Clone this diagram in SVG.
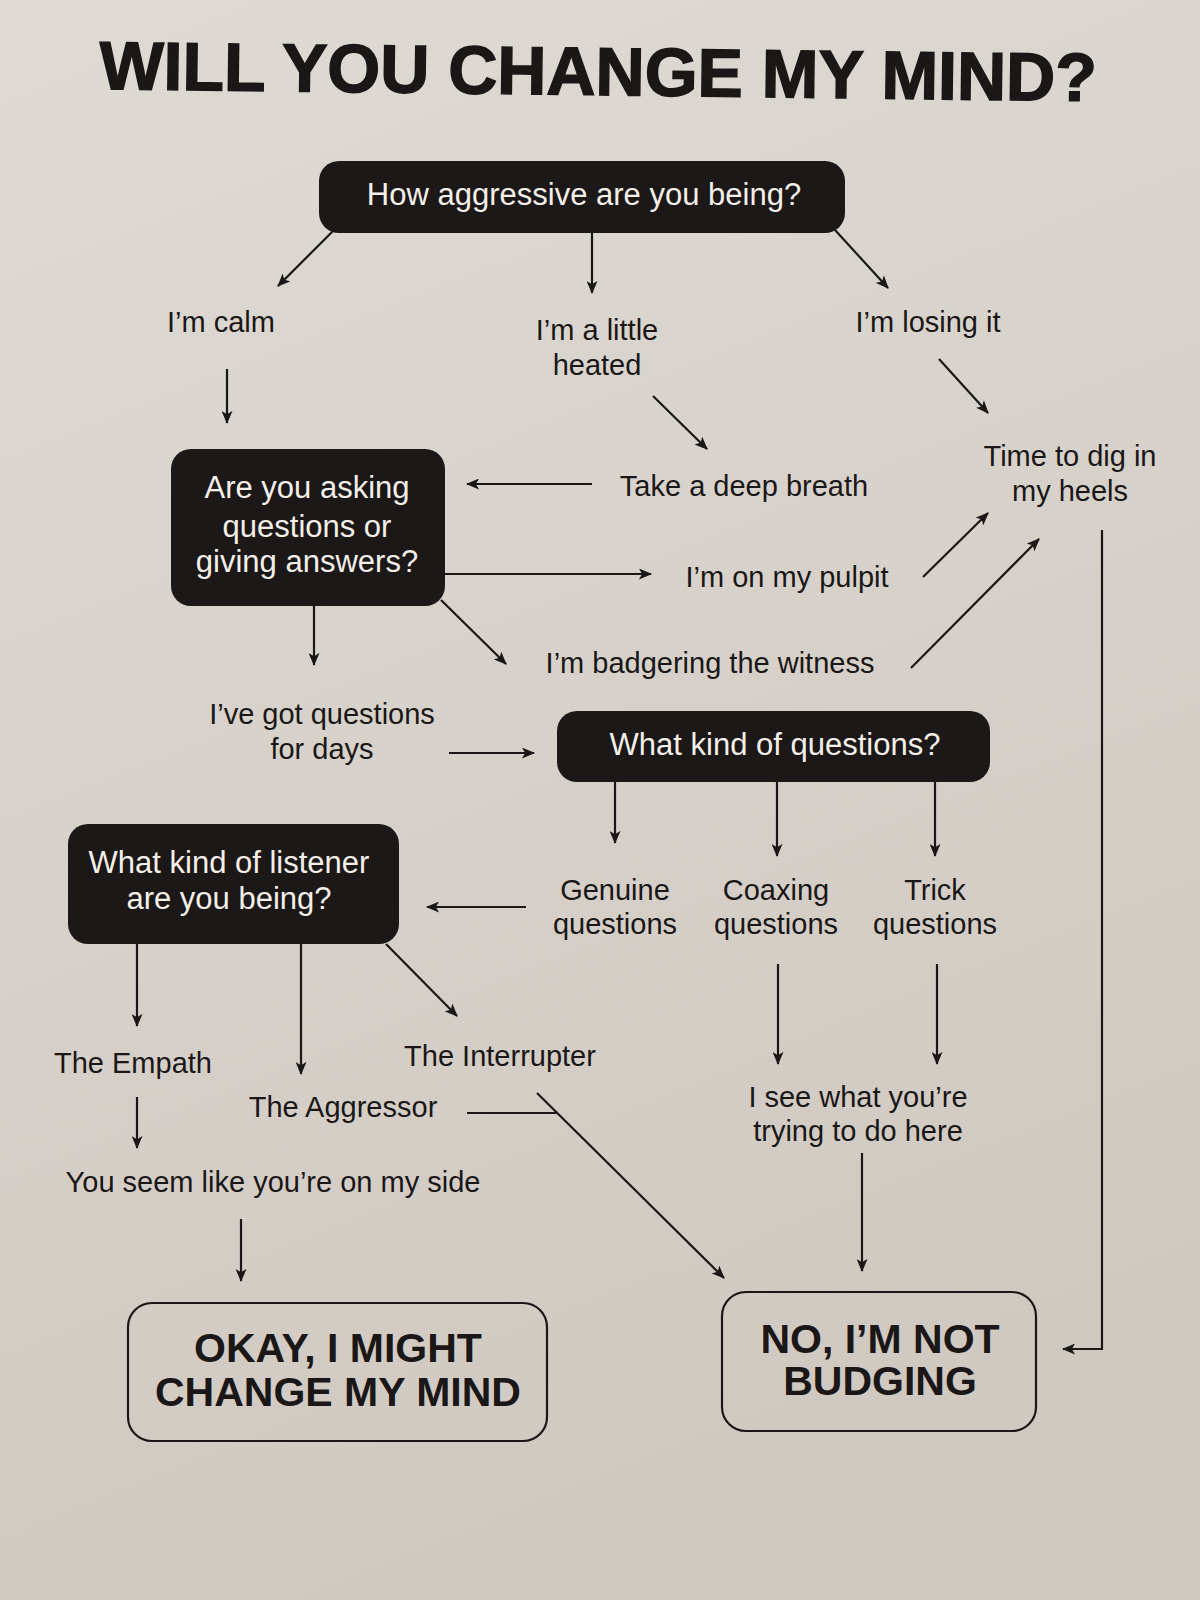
<svg xmlns="http://www.w3.org/2000/svg" width="1200" height="1600" viewBox="0 0 1200 1600">
<defs>
<linearGradient id="bg" x1="0" y1="0" x2="0.3" y2="1">
<stop offset="0" stop-color="#dfdad4"/>
<stop offset="1" stop-color="#d0c9c2"/>
</linearGradient>
<marker id="ah" viewBox="0 0 12 10" refX="11" refY="5" markerWidth="14" markerHeight="11" markerUnits="userSpaceOnUse" orient="auto">
<path d="M0,0 L12,5 L0,10 L3,5 Z" fill="#1a1716"/>
</marker>
<style>
.t{font-family:"Liberation Sans",Arial,sans-serif;font-size:29px;fill:#1a1716;text-anchor:middle}
.w{font-family:"Liberation Sans",Arial,sans-serif;font-size:31px;fill:#f4efe9;text-anchor:middle}
.b{font-family:"Liberation Sans",Arial,sans-serif;font-size:41px;font-weight:bold;fill:#1a1716;text-anchor:middle}
.dark{fill:#1c1817}
.end{fill:none;stroke:#1a1716;stroke-width:2.2}
.c line,.c polyline{stroke:#1a1716;stroke-width:2.2;fill:none}
.c .a{marker-end:url(#ah)}
</style>
</defs>
<rect width="1200" height="1600" fill="url(#bg)"/>

<g id="title">
<text x="598" y="95" transform="rotate(0.7 598 80)" style="font-family:'Liberation Sans',Arial,sans-serif;font-size:68px;font-weight:bold;fill:#1a1716;stroke:#1a1716;stroke-width:1.5" text-anchor="middle">WILL YOU CHANGE MY MIND?</text>
</g>

<g id="n-aggressive">
<rect class="dark" x="319" y="161" width="526" height="72" rx="20"/>
<text class="w" x="584" y="205">How aggressive are you being?</text>
</g>
<g id="n-calm"><text class="t" x="221" y="332">I’m calm</text></g>
<g id="n-heated"><text class="t" x="597" y="340">I’m a little</text><text class="t" x="597" y="375">heated</text></g>
<g id="n-losing"><text class="t" x="928" y="332">I’m losing it</text></g>

<g id="n-asking">
<rect class="dark" x="171" y="449" width="274" height="157" rx="20"/>
<text class="w" x="307" y="498">Are you asking</text>
<text class="w" x="307" y="537">questions or</text>
<text class="w" x="307" y="572">giving answers?</text>
</g>
<g id="n-breath"><text class="t" x="744" y="496">Take a deep breath</text></g>
<g id="n-heels"><text class="t" x="1070" y="466">Time to dig in</text><text class="t" x="1070" y="501">my heels</text></g>
<g id="n-pulpit"><text class="t" x="787" y="587">I’m on my pulpit</text></g>
<g id="n-badgering"><text class="t" x="710" y="673">I’m badgering the witness</text></g>
<g id="n-days"><text class="t" x="322" y="724">I’ve got questions</text><text class="t" x="322" y="759">for days</text></g>

<g id="n-kindq">
<rect class="dark" x="557" y="711" width="433" height="71" rx="20"/>
<text class="w" x="775" y="755">What kind of questions?</text>
</g>
<g id="n-genuine"><text class="t" x="615" y="900">Genuine</text><text class="t" x="615" y="934">questions</text></g>
<g id="n-coaxing"><text class="t" x="776" y="900">Coaxing</text><text class="t" x="776" y="934">questions</text></g>
<g id="n-trick"><text class="t" x="935" y="900">Trick</text><text class="t" x="935" y="934">questions</text></g>

<g id="n-listener">
<rect class="dark" x="68" y="824" width="331" height="120" rx="20"/>
<text class="w" x="229" y="873">What kind of listener</text>
<text class="w" x="229" y="909">are you being?</text>
</g>
<g id="n-empath"><text class="t" x="133" y="1073">The Empath</text></g>
<g id="n-interrupter"><text class="t" x="500" y="1066">The Interrupter</text></g>
<g id="n-aggressor"><text class="t" x="343" y="1117">The Aggressor</text></g>
<g id="n-side"><text class="t" x="273" y="1192">You seem like you’re on my side</text></g>
<g id="n-see"><text class="t" x="858" y="1107">I see what you’re</text><text class="t" x="858" y="1141">trying to do here</text></g>

<g id="n-okay">
<rect class="end" x="128" y="1303" width="419" height="138" rx="24"/>
<text class="b" x="338" y="1362">OKAY, I MIGHT</text>
<text class="b" x="338" y="1406">CHANGE MY MIND</text>
</g>
<g id="n-no">
<rect class="end" x="722" y="1292" width="314" height="139" rx="24"/>
<text class="b" x="880" y="1353">NO, I’M NOT</text>
<text class="b" x="880" y="1395">BUDGING</text>
</g>

<g id="connectors" class="c">
<line class="a" x1="334" y1="230" x2="278" y2="286"/>
<line class="a" x1="592" y1="233" x2="592" y2="293"/>
<line class="a" x1="835" y1="230" x2="888" y2="288"/>
<line class="a" x1="227" y1="369" x2="227" y2="423"/>
<line class="a" x1="653" y1="396" x2="707" y2="449"/>
<line class="a" x1="939" y1="359" x2="988" y2="413"/>
<line class="a" x1="592" y1="484" x2="467" y2="484"/>
<line class="a" x1="445" y1="574" x2="651" y2="574"/>
<line class="a" x1="923" y1="577" x2="988" y2="513"/>
<line class="a" x1="314" y1="606" x2="314" y2="665"/>
<line class="a" x1="441" y1="600" x2="506" y2="664"/>
<line class="a" x1="911" y1="668" x2="1039" y2="539"/>
<line class="a" x1="449" y1="753" x2="534" y2="753"/>
<line class="a" x1="615" y1="782" x2="615" y2="843"/>
<line class="a" x1="777" y1="782" x2="777" y2="856"/>
<line class="a" x1="935" y1="782" x2="935" y2="856"/>
<line class="a" x1="526" y1="907" x2="427" y2="907"/>
<line class="a" x1="137" y1="944" x2="137" y2="1026"/>
<line class="a" x1="301" y1="944" x2="301" y2="1074"/>
<line class="a" x1="386" y1="944" x2="457" y2="1016"/>
<line class="a" x1="137" y1="1097" x2="137" y2="1148"/>
<line class="a" x1="241" y1="1219" x2="241" y2="1281"/>
<line x1="467" y1="1113" x2="556" y2="1113"/>
<line class="a" x1="537" y1="1093" x2="724" y2="1278"/>
<line class="a" x1="778" y1="964" x2="778" y2="1064"/>
<line class="a" x1="937" y1="964" x2="937" y2="1064"/>
<line class="a" x1="862" y1="1153" x2="862" y2="1271"/>
<polyline class="a" points="1102,530 1102,1349 1063,1349"/>
</g>
</svg>
